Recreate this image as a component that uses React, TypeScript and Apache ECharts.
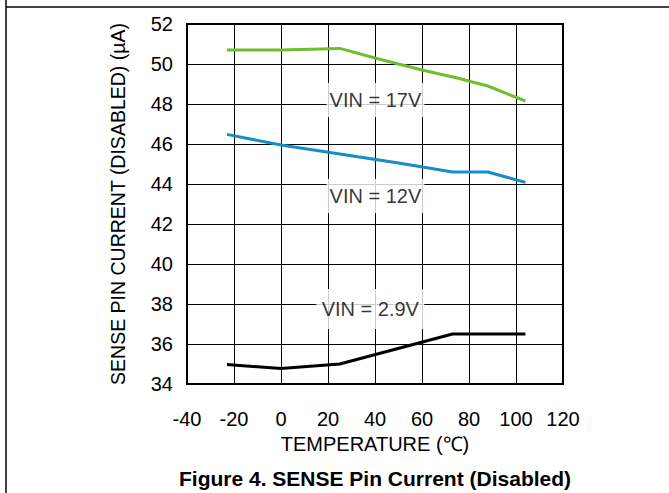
import React, { useEffect, useRef } from "react";
import * as echarts from "echarts";

const FONT = "'Liberation Sans', Arial, Helvetica, sans-serif";

const xTicks = [-40, -20, 0, 20, 40, 60, 80, 100, 120];
const yTicks = [34, 36, 38, 40, 42, 44, 46, 48, 50, 52];

const vin17: [number, number][] = [
  [-23, 50.7], [0, 50.7], [25, 50.78], [40, 50.3], [60, 49.7], [75, 49.3], [88, 48.9], [104, 48.15],
];
const vin12: [number, number][] = [
  [-23, 46.48], [0, 45.95], [25, 45.5], [50, 45.05], [73, 44.6], [88, 44.6], [104, 44.08],
];
const vin29: [number, number][] = [
  [-23, 34.97], [0, 34.78], [25, 35.0], [73, 36.5], [104, 36.5],
];

const labelNames = ["VIN = 17V", "VIN = 12V", "VIN = 2.9V"];
const labelPos: [number, number][] = [[40.2, 48.2], [40.2, 43.4], [38, 37.75]];

const boxSizes: [number, number][] = [[98, 34], [98, 34], [108, 40]];

export default function App() {
  const ref = useRef<HTMLDivElement>(null);
  useEffect(() => {
    if (!ref.current) return;
    const chart = echarts.init(ref.current, undefined, { renderer: "svg" });
    chart.setOption({
      animation: false,
      backgroundColor: "#ffffff",
      textStyle: { fontFamily: FONT },
      grid: {
        left: 187, top: 24, right: 106, bottom: 109,
        show: true, borderColor: "#000", borderWidth: 2, backgroundColor: "transparent",
      },
      xAxis: {
        type: "value",
        min: xTicks[0], max: xTicks[xTicks.length - 1], interval: 20,
        axisLine: { show: false }, axisTick: { show: false },
        splitLine: { show: true, lineStyle: { color: "#000", width: 1 } },
        axisLabel: { color: "#000", fontSize: 20, margin: 25, fontFamily: FONT },
        name: "TEMPERATURE (\u2103)", nameLocation: "middle", nameGap: 47,
        nameTextStyle: { color: "#000", fontSize: 20, fontFamily: FONT },
      },
      yAxis: {
        type: "value",
        min: yTicks[0], max: yTicks[yTicks.length - 1], interval: 2,
        axisLine: { show: false }, axisTick: { show: false },
        splitLine: { show: true, lineStyle: { color: "#000", width: 1 } },
        axisLabel: { color: "#000", fontSize: 20, margin: 14, fontFamily: FONT },
        name: "SENSE PIN CURRENT (DISABLED) (\u00b5A)", nameLocation: "middle", nameGap: 59.5,
        nameTextStyle: { color: "#000", fontSize: 19.5, fontFamily: FONT },
      },
      graphic: [
        { type: "line", shape: { x1: 6, y1: 0, x2: 6, y2: 493 }, style: { stroke: "#000", lineWidth: 1.5 } },
        { type: "line", shape: { x1: 6, y1: 7, x2: 669, y2: 7 }, style: { stroke: "#000", lineWidth: 1.5 } },
        {
          type: "text", x: 375, y: 468,
          style: {
            text: "Figure 4. SENSE Pin Current (Disabled)", font: `bold 21px ${FONT}`,
            fill: "#000", textAlign: "center",
          },
        },
      ],
      series: [
        { type: "line", data: vin17, showSymbol: false, lineStyle: { color: "#6dbf2f", width: 3 }, z: 3 },
        { type: "line", data: vin12, showSymbol: false, lineStyle: { color: "#168cc8", width: 3 }, z: 3 },
        { type: "line", data: vin29, showSymbol: false, lineStyle: { color: "#000", width: 3 }, z: 3 },
        {
          type: "scatter",
          data: labelPos.map((p, i) => ({ value: p, name: labelNames[i], symbolSize: boxSizes[i] })),
          symbol: "rect",
          itemStyle: { color: "#fff" },
          z: 2,
          label: {
            show: true, position: "inside", formatter: (p: any) => p.name,
            color: "#000", fontSize: 20, fontFamily: FONT,
          },
        },
      ],
    });
    return () => chart.dispose();
  }, []);
  return <div ref={ref} style={{ position: "fixed", left: 0, top: 0, width: 669, height: 493 }} />;
}
